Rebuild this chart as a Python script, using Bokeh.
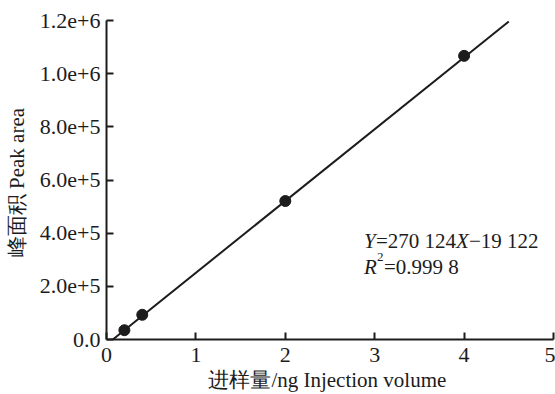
from bokeh.plotting import figure
from bokeh.models import Range1d, FixedTicker, Label
from bokeh.embed import file_html
from bokeh.resources import INLINE

# ---- data ----
x_vals = [0.2, 0.4, 2.0, 4.0]
y_vals = [35000, 93000, 521000, 1067000]
slope = 270124
intercept = -19122
fit_x_end = 4.5

x_ticks = [0, 1, 2, 3, 4, 5]
x_tick_labels = ["0", "1", "2", "3", "4", "5"]
y_ticks = [0, 200000, 400000, 600000, 800000, 1000000, 1200000]
y_tick_labels = ["0.0", "2.0e+5", "4.0e+5", "6.0e+5", "8.0e+5", "1.0e+6", "1.2e+6"]

x_label = "进样量/ng  Injection volume"
y_label = "峰面积  Peak area"

FONT = "'Liberation Serif', serif"
INK = "#1c1c1c"

p = figure(width=555, height=394, output_backend="svg", toolbar_location=None,
           x_range=Range1d(0, 5), y_range=Range1d(0, 1200000),
           min_border_left=106, min_border_right=2, min_border_top=20, min_border_bottom=53)
p.outline_line_color = None
p.xgrid.visible = False
p.ygrid.visible = False
p.background_fill_color = "white"
p.border_fill_color = "white"

# fit line
fit_x_start = -intercept / slope
fit_x = [fit_x_start, fit_x_end]
fit_y = [slope * v + intercept for v in fit_x]
p.line(fit_x, fit_y, line_color=INK, line_width=2)
p.scatter(x_vals, y_vals, size=11, fill_color=INK, line_color=INK)

for ax in (p.xaxis[0], p.yaxis[0]):
    ax.major_tick_in = 7
    ax.major_tick_out = 0
    ax.minor_tick_line_color = None
    ax.axis_line_width = 2
    ax.axis_line_color = INK
    ax.major_tick_line_width = 2
    ax.major_tick_line_color = INK
    ax.major_label_text_font = FONT
    ax.major_label_text_font_size = "22px"
    ax.major_label_text_color = INK
    ax.axis_label_text_font = FONT
    ax.axis_label_text_font_size = "21px"
    ax.axis_label_text_font_style = "normal"
    ax.axis_label_text_color = INK

p.xaxis.ticker = FixedTicker(ticks=x_ticks)
p.xaxis.major_label_overrides = {t: l for t, l in zip(x_ticks, x_tick_labels)}
p.yaxis.ticker = FixedTicker(ticks=y_ticks)
p.yaxis.major_label_overrides = {t: l for t, l in zip(y_ticks, y_tick_labels)}
p.xaxis.axis_label = x_label
p.yaxis.axis_label = y_label
p.xaxis.major_label_standoff = 8
p.xaxis.axis_label_standoff = 3
p.yaxis.major_label_standoff = 6
p.yaxis.axis_label_standoff = 8

# equation annotation
ex = 2.88
ey1 = 370000
ey2 = 272000
fs = "21px"
def lab(text, x_off, y, style="normal", size=fs, y_off=0):
    p.add_layout(Label(x=ex, y=y, x_offset=x_off, y_offset=y_off, text=text,
                       text_font=FONT, text_font_size=size, text_font_style=style,
                       text_color=INK, text_baseline="alphabetic", text_align="left"))

lab("Y", 0, ey1, "italic")
lab("=270 124", 12, ey1)
lab("X", 92, ey1, "italic")
lab("\u221219 122", 105, ey1)
lab("R", 0, ey2, "italic")
lab("2", 13, ey2, size="13px", y_off=10)
lab("=0.999 8", 20, ey2)

open("out.html", "w").write(file_html(p, INLINE))
